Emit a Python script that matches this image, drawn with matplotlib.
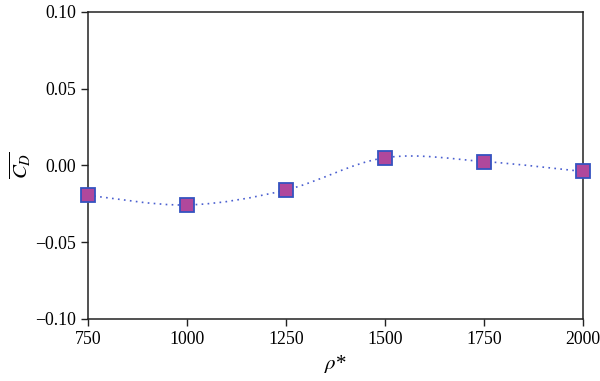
import numpy as np
import matplotlib.pyplot as plt
from matplotlib.path import Path
from matplotlib.patches import PathPatch

plt.rcParams['font.family'] = ['Liberation Serif', 'DejaVu Serif']
plt.rcParams['mathtext.fontset'] = 'stix'

rho = [750, 1000, 1250, 1500, 1750, 2000]
cd = [-0.0195, -0.0258, -0.0160, 0.0050, 0.0025, -0.0040]
xticks = [750, 1000, 1250, 1500, 1750, 2000]
yticks = [-0.10, -0.05, 0.00, 0.05, 0.10]

fig = plt.figure(figsize=(6, 3.81), dpi=100)
ax = fig.add_axes([0.147, 0.163, 0.825, 0.806])

# smooth dotted curve (Catmull-Rom as cubic Bezier)
x = np.array(rho, float)
y = np.array(cd, float)
verts = [(x[0], y[0])]
codes = [Path.MOVETO]
for i in range(len(x) - 1):
    x0, y0 = (x[i - 1], y[i - 1]) if i > 0 else (x[i], y[i])
    x3, y3 = (x[i + 2], y[i + 2]) if i + 2 < len(x) else (x[i + 1], y[i + 1])
    c1 = (x[i] + (x[i + 1] - x0) / 6, y[i] + (y[i + 1] - y0) / 6)
    c2 = (x[i + 1] - (x3 - x[i]) / 6, y[i + 1] - (y3 - y[i]) / 6)
    verts += [c1, c2, (x[i + 1], y[i + 1])]
    codes += [Path.CURVE4] * 3
ax.add_patch(PathPatch(Path(verts, codes), fill=False, edgecolor='#4a5fd0',
                       linestyle=(0, (1, 2.6)), linewidth=1.2, zorder=2))

ax.plot(rho, cd, linestyle='none', marker='s', markersize=10.5,
        markerfacecolor='#b0489c', markeredgecolor='#3553c0',
        markeredgewidth=1.3, zorder=3, clip_on=False)

ax.set_xlim(750, 2000)
ax.set_ylim(-0.10, 0.10)
ax.set_xticks(xticks)
ax.set_yticks(yticks)
ax.set_yticklabels(['\u22120.10', '\u22120.05', '0.00', '0.05', '0.10'])
ax.tick_params(direction='out', length=5, width=1, labelsize=12.8, color='#222222')
for s in ax.spines.values():
    s.set_linewidth(1.1)
    s.set_color('#222222')

ax.set_xlabel(r'$\rho$*', fontsize=15, labelpad=4)
ax.set_ylabel(r'$\overline{C_D}$', fontsize=15, labelpad=2)

fig.savefig('out.png', dpi=100)
